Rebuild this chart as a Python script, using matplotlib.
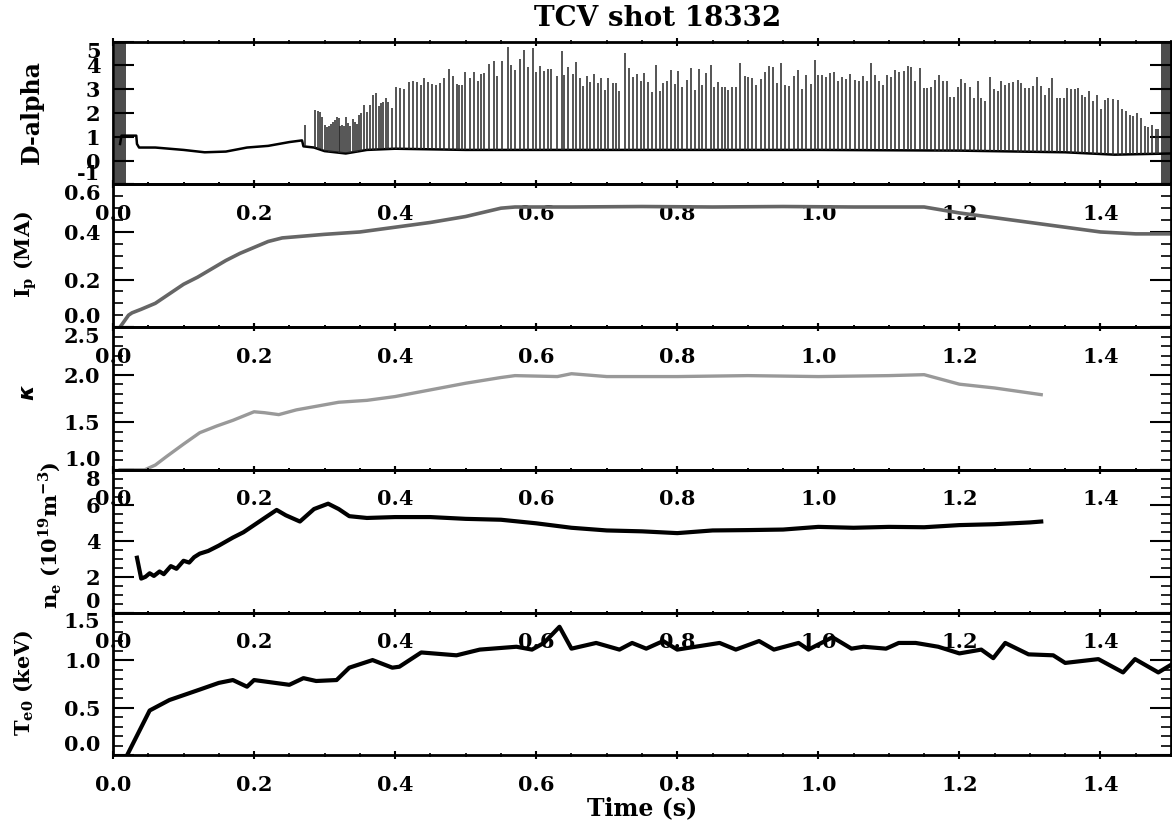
import matplotlib
matplotlib.use("Agg")
import matplotlib.pyplot as plt
from matplotlib.ticker import MultipleLocator, FormatStrFormatter
import numpy as np

plt.rcParams['font.family'] = ['DejaVu Serif']
plt.rcParams['font.weight'] = 'bold'

# ---- D-alpha: baseline trace and ELM spikes ----
dalpha_base_t = [0.010, 0.012, 0.033, 0.034, 0.037, 0.06, 0.10, 0.13, 0.16, 0.19, 0.22, 0.25,
                 0.268, 0.270, 0.285, 0.30, 0.33, 0.36, 0.40, 0.50, 0.70, 1.00, 1.20, 1.35, 1.42, 1.50]
dalpha_base_v = [0.70, 1.05, 1.05, 0.70, 0.55, 0.55, 0.45, 0.35, 0.38, 0.55, 0.62, 0.78,
                 0.85, 0.60, 0.55, 0.40, 0.30, 0.45, 0.50, 0.45, 0.45, 0.45, 0.42, 0.35, 0.25, 0.30]

elm_t = [0.2718, 0.2869, 0.2906, 0.2930, 0.2968, 0.3001, 0.3034, 0.3062, 0.3086, 0.3119,
         0.3147, 0.3175, 0.3199, 0.3223, 0.3251, 0.3274, 0.3307, 0.3336, 0.3364, 0.3402,
         0.3430, 0.3458, 0.3482, 0.3510, 0.3553, 0.3600, 0.3638, 0.3685, 0.3732, 0.3770,
         0.3803, 0.3826, 0.3864, 0.3897, 0.3959, 0.4006, 0.4062, 0.4124, 0.4195, 0.4251,
         0.4313, 0.4369, 0.4416, 0.4473, 0.4525, 0.4581, 0.4643, 0.4699,
         0.4770, 0.4827, 0.4874, 0.4912, 0.4944, 0.4996, 0.5063, 0.5124, 0.5171, 0.5223,
         0.5265, 0.5326, 0.5397, 0.5440, 0.5515, 0.5595, 0.5648, 0.5704, 0.5771, 0.5822,
         0.5879, 0.5950, 0.5997, 0.6058, 0.6105, 0.6167, 0.6209, 0.6289, 0.6360, 0.6398,
         0.6454, 0.6516, 0.6563, 0.6620, 0.6657, 0.6714, 0.6766, 0.6822, 0.6870, 0.6917,
         0.6978, 0.7025, 0.7082, 0.7129, 0.7176, 0.7256, 0.7318, 0.7374, 0.7427, 0.7483,
         0.7535, 0.7591,
         0.7639, 0.7704, 0.7752, 0.7799, 0.7860, 0.7908, 0.7964, 0.8016, 0.8072, 0.8139,
         0.8195, 0.8248, 0.8309, 0.8356, 0.8413, 0.8474, 0.8521, 0.8582, 0.8630, 0.8677,
         0.8724, 0.8780, 0.8837, 0.8889, 0.8955, 0.9007, 0.9063, 0.9120, 0.9181, 0.9238,
         0.9299, 0.9356, 0.9417, 0.9474, 0.9526, 0.9582, 0.9653, 0.9710,
         0.9762, 0.9828, 0.9889, 0.9950, 0.9998, 1.0054, 1.0111, 1.0172, 1.0229, 1.0281,
         1.0337, 1.0394, 1.0455, 1.0517, 1.0573, 1.0630, 1.0691, 1.0753, 1.0809, 1.0856,
         1.0913, 1.0974, 1.1031, 1.1092, 1.1149, 1.1210, 1.1271, 1.1319, 1.1376, 1.1437,
         1.1493, 1.1541, 1.1597, 1.1659, 1.1715, 1.1767, 1.1823, 1.1871, 1.1918, 1.1979,
         1.2026, 1.2083, 1.2144, 1.2201, 1.2258, 1.2309, 1.2366, 1.2427, 1.2484, 1.2541,
         1.2592, 1.2649, 1.2706, 1.2767, 1.2824, 1.2876, 1.2933, 1.2989, 1.3041, 1.3097,
         1.3159, 1.3216, 1.3272, 1.3319, 1.3380, 1.3428, 1.3485, 1.3522, 1.3584, 1.3640,
         1.3687, 1.3734, 1.3782, 1.3839, 1.3899, 1.3956, 1.4008, 1.4065, 1.4112, 1.4183,
         1.4244, 1.4301, 1.4357, 1.4419, 1.4466, 1.4513, 1.4574, 1.4631, 1.4678, 1.4735,
         1.4782, 1.4820]
elm_h = [1.50, 2.14, 2.10, 2.03, 1.82, 1.50, 1.40, 1.47, 1.54, 1.61,
         1.72, 1.82, 1.78, 1.47, 1.50, 1.44, 1.82, 1.58, 1.47, 1.75,
         1.61, 1.54, 1.92, 2.00, 2.35, 2.06, 2.34, 2.76, 2.84, 2.28,
         2.42, 2.45, 2.62, 2.45, 2.20, 3.08, 3.04, 3.01, 3.29, 3.36,
         3.29, 3.18, 3.46, 3.29, 3.22, 3.18, 3.25, 3.46,
         3.85, 3.57, 3.22, 3.18, 3.18, 3.74, 3.46, 3.71, 3.36, 3.64,
         3.68, 4.06, 4.20, 3.54, 4.20, 4.76, 4.02, 3.82, 4.27, 4.66,
         3.92, 4.73, 3.71, 3.99, 3.78, 3.85, 3.85, 3.54, 4.62, 3.60,
         3.92, 3.64, 4.16, 3.46, 3.15, 3.57, 3.29, 3.64, 3.26, 3.46,
         2.98, 3.46, 3.26, 3.26, 2.94, 4.52, 3.88, 3.53, 3.64, 3.36,
         3.68, 3.29,
         2.87, 4.02, 2.94, 3.25, 3.36, 3.82, 3.22, 3.75, 3.08, 3.40,
         3.89, 2.98, 3.85, 3.18, 3.68, 4.02, 3.08, 3.29, 3.08, 3.08,
         2.98, 3.08, 3.08, 4.10, 3.57, 3.50, 3.46, 3.18, 3.43, 3.74,
         3.96, 3.92, 3.26, 4.10, 3.18, 3.15, 3.54, 3.82,
         3.01, 3.61, 3.22, 4.23, 3.61, 3.61, 3.50, 3.67, 3.71, 3.36,
         3.50, 3.43, 3.64, 3.39, 3.36, 3.57, 3.36, 4.09, 3.61, 3.36,
         3.19, 3.61, 3.50, 3.81, 3.71, 3.78, 3.99, 3.92, 3.36, 3.88,
         3.05, 3.05, 3.11, 3.39, 3.61, 3.36, 3.36, 2.69, 2.69, 3.08,
         3.43, 3.25, 3.11, 2.63, 3.33, 2.63, 2.52, 3.53, 3.01, 2.91,
         3.36, 3.19, 3.25, 3.29, 3.39, 3.25, 3.05, 3.05, 3.15, 3.53,
         3.15, 2.77, 3.05, 3.47, 2.63, 2.63, 2.63, 3.05, 3.01, 3.01,
         3.05, 2.77, 2.69, 2.91, 2.49, 2.77, 2.17, 2.55, 2.63, 2.59,
         2.55, 2.17, 2.10, 1.93, 1.89, 1.99, 1.79, 1.47, 1.40, 1.51,
         1.33, 1.33]

# ---- plasma current ----
ip_t = [0.010, 0.022, 0.027, 0.04, 0.06, 0.08, 0.10, 0.12, 0.14, 0.16, 0.18, 0.20, 0.22,
        0.24, 0.26, 0.30, 0.35, 0.40, 0.45, 0.50, 0.55, 0.57, 0.65, 0.75, 0.85, 0.95,
        1.05, 1.15, 1.20, 1.25, 1.30, 1.35, 1.40, 1.45, 1.50]
ip_v = [0.0, 0.05, 0.06, 0.075, 0.10, 0.14, 0.18, 0.21, 0.245, 0.28, 0.31, 0.335, 0.36,
        0.375, 0.38, 0.39, 0.40, 0.42, 0.44, 0.465, 0.50, 0.505, 0.505, 0.507, 0.505, 0.507,
        0.505, 0.505, 0.48, 0.46, 0.44, 0.42, 0.40, 0.392, 0.392]

# ---- elongation ----
kappa_t = [0.010, 0.045, 0.06, 0.076, 0.10, 0.123, 0.147, 0.17, 0.20, 0.215, 0.235, 0.26,
           0.29, 0.32, 0.36, 0.40, 0.45, 0.50, 0.55, 0.57, 0.63, 0.65, 0.70, 0.80, 0.90,
           1.00, 1.10, 1.15, 1.20, 1.25, 1.316]
kappa_v = [1.00, 1.00, 1.05, 1.14, 1.27, 1.39, 1.46, 1.52, 1.61, 1.60, 1.58, 1.63,
           1.67, 1.71, 1.73, 1.77, 1.84, 1.91, 1.97, 1.99, 1.98, 2.01, 1.98, 1.98, 1.99,
           1.98, 1.99, 2.00, 1.90, 1.86, 1.79]

# ---- line-averaged density ----
ne_t = [0.034, 0.040, 0.046, 0.052, 0.058, 0.066, 0.072, 0.082, 0.090, 0.100, 0.108,
        0.115, 0.123, 0.135, 0.150, 0.170, 0.185, 0.200, 0.215, 0.232, 0.245, 0.265,
        0.285, 0.305, 0.320, 0.335, 0.36, 0.40, 0.45, 0.50, 0.55, 0.60, 0.65, 0.70,
        0.75, 0.80, 0.85, 0.90, 0.95, 1.00, 1.05, 1.10, 1.15, 1.20, 1.25, 1.30, 1.316]
ne_v = [3.07, 1.90, 2.00, 2.20, 2.05, 2.30, 2.15, 2.60, 2.45, 2.90, 2.80,
        3.10, 3.30, 3.45, 3.75, 4.20, 4.50, 4.90, 5.30, 5.75, 5.45, 5.10,
        5.80, 6.10, 5.80, 5.40, 5.30, 5.35, 5.35, 5.25, 5.20, 5.00, 4.75, 4.60,
        4.55, 4.45, 4.60, 4.62, 4.65, 4.80, 4.75, 4.80, 4.78, 4.90, 4.95, 5.05, 5.10]

# ---- central electron temperature ----
te_t = [0.020, 0.052, 0.080, 0.123, 0.150, 0.170, 0.190, 0.200, 0.250, 0.270, 0.288, 0.317,
        0.335, 0.368, 0.396, 0.406, 0.437, 0.487, 0.520, 0.572, 0.594, 0.611, 0.633, 0.650,
        0.685, 0.718, 0.736, 0.756, 0.780, 0.800, 0.860, 0.883, 0.916, 0.937, 0.972, 0.986,
        1.020, 1.047, 1.064, 1.096, 1.114, 1.138, 1.170, 1.200, 1.231, 1.248, 1.265, 1.298,
        1.333, 1.350, 1.397, 1.432, 1.449, 1.482, 1.500]
te_v = [0.00, 0.47, 0.58, 0.69, 0.76, 0.79, 0.72, 0.79, 0.74, 0.81, 0.78, 0.79,
        0.92, 1.00, 0.92, 0.93, 1.08, 1.05, 1.11, 1.14, 1.11, 1.18, 1.35, 1.12,
        1.18, 1.11, 1.18, 1.12, 1.20, 1.11, 1.18, 1.11, 1.20, 1.11, 1.18, 1.11,
        1.24, 1.12, 1.14, 1.12, 1.18, 1.18, 1.14, 1.07, 1.11, 1.02, 1.18, 1.06,
        1.05, 0.97, 1.01, 0.87, 1.01, 0.87, 0.95]

xlim = (0.0, 1.5)
ylims = [(-1, 5), (0.0, 0.6), (1.0, 2.5), (0, 8), (0.0, 1.5)]
ymajor = [1, 0.2, 0.5, 2, 0.5]
yminor = [None, 0.05, 0.1, 0.5, 0.1]
yfmt = ['%d', '%.1f', '%.1f', '%d', '%.1f']
ylabels = ['D-alpha', r'I$_\mathregular{p}$ (MA)', r'$\kappa$',
           r'n$_\mathregular{e}$ (10$^\mathregular{19}$m$^\mathregular{-3}$)',
           r'T$_\mathregular{e0}$ (keV)']
ylabel_pos = [(32, 112), (26, 255), (28, 392), (50, 535), (24, 683)]
ylabel_size = [17, 15, 16, 15, 15]

W, H = 1172, 827
fig = plt.figure(figsize=(W / 100, H / 100), dpi=100)

left = 113 / W
width = (1171 - 113) / W
tops = [41.7, 184.4, 327.1, 469.8, 612.5]
ph = 142.7

axes = []
for i in range(5):
    ax = fig.add_axes([left, 1 - (tops[i] + ph) / H, width, ph / H])
    ax.set_facecolor('none')
    ax.set_xlim(*xlim)
    ax.set_ylim(*ylims[i])
    ax.xaxis.set_major_locator(MultipleLocator(0.2))
    ax.xaxis.set_minor_locator(MultipleLocator(0.05))
    ax.xaxis.set_major_formatter(FormatStrFormatter('%.1f'))
    ax.yaxis.set_major_locator(MultipleLocator(ymajor[i]))
    if yminor[i]:
        ax.yaxis.set_minor_locator(MultipleLocator(yminor[i]))
    ax.yaxis.set_major_formatter(FormatStrFormatter(yfmt[i]))
    ax.tick_params(axis='x', which='major', direction='inout', length=6, width=1.5,
                   top=True, bottom=True, pad=11, labelsize=15)
    ax.tick_params(axis='x', which='minor', direction='inout', length=3, width=1.2,
                   top=True, bottom=True)
    ax.tick_params(axis='y', which='major', direction='in', length=15, width=1.5,
                   left=True, right=True, pad=9, labelsize=15)
    ax.tick_params(axis='y', which='minor', direction='in', length=7.5, width=1.2,
                   left=True, right=True)
    for sp in ax.spines.values():
        sp.set_linewidth(2)
    fig.text(ylabel_pos[i][0] / W, 1 - ylabel_pos[i][1] / H, ylabels[i], rotation=90,
             ha='center', va='center', fontsize=ylabel_size[i], fontweight='bold')
    axes.append(ax)

ax1, ax2, ax3, ax4, ax5 = axes

# D-alpha: dense noise at both ends of the window, baseline and spikes
ax1.axvspan(0.003, 0.019, color='0.3', lw=0)
ax1.axvspan(1.486, 1.5, color='0.3', lw=0)
ax1.plot(dalpha_base_t, dalpha_base_v, color='black', lw=1.8)
base_at_elm = np.interp(elm_t, dalpha_base_t, dalpha_base_v)
ax1.vlines(elm_t, base_at_elm, elm_h, color='0.15', lw=1.1)

ax2.plot(ip_t, ip_v, color='0.4', lw=2.6)
ax3.plot(kappa_t, kappa_v, color='0.6', lw=2.4)
ax4.plot(ne_t, ne_v, color='black', lw=3)
ax5.plot(te_t, te_v, color='black', lw=3)

ax5.set_xlabel('Time (s)', fontsize=17, fontweight='bold', labelpad=1)

fig.canvas.draw()
for ax in axes:
    labs = ax.yaxis.get_majorticklabels()
    lo, hi = ax.get_ylim()
    vis = [l for l in labs if lo - 1e-9 <= l.get_position()[1] <= hi + 1e-9]
    if vis:
        vis[0].set_va('bottom')
        vis[-1].set_va('top')

fig.text(658 / W, 1 - 18 / H, 'TCV shot 18332', ha='center', va='center',
         fontsize=20, fontweight='bold')

fig.savefig('out.png', dpi=100)
